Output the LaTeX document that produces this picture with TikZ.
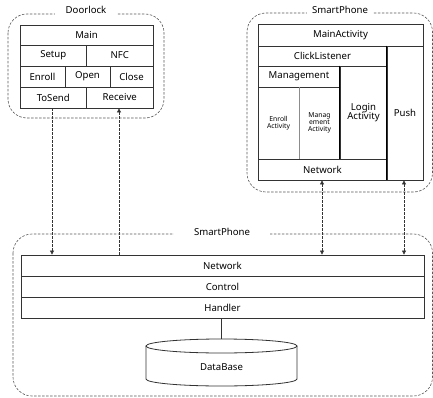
\documentclass[tikz,border=0pt]{standalone}
\usepackage{fontspec}
\setmainfont{Noto Sans}
\usetikzlibrary{arrows.meta,calc}
\begin{document}
\begin{tikzpicture}[x=1pt,y=-1pt,
  line/.style={draw=black!80,line width=0.8pt},
  cell/.style={line,rectangle,inner sep=0pt,align=center,font=\fontsize{9.6}{11}\selectfont},
  small/.style={font=\fontsize{6.8}{8}\selectfont},
  group/.style={draw=black!65,dash pattern=on 2.5pt off 1.5pt,line width=0.6pt,rounded corners=19pt},
  glabel/.style={fill=white,inner sep=3pt,font=\fontsize{9.6}{11}\selectfont},
  arr/.style={draw=black!80,dash pattern=on 2.5pt off 1.5pt,line width=0.6pt},
  smalltip/.tip={Triangle[length=4pt,width=4pt]}]
\useasboundingbox (0,0) rectangle (433,398);
% ---------- Doorlock
\draw[group] (8,14) rectangle (164,118);
\node[glabel,inner xsep=11pt] (gl1) at (86,10) {Doorlock};
\node[cell,minimum width=133pt,minimum height=20pt] (main) at (86.5,35) {Main};
\node[cell,minimum width=66.5pt,minimum height=21pt] (setup) at (53.25,55.5) {Setup};
\node[cell,minimum width=66.5pt,minimum height=21pt] (nfc) at (119.75,55.5) {NFC};
\node[cell,minimum width=45pt,minimum height=21pt] (enroll) at (42.5,76.5) {Enroll};
\node[cell,minimum width=45pt,minimum height=21pt] (open) at (87.5,76.5) {Open};
\node[cell,minimum width=43pt,minimum height=21pt] (close) at (131.5,76.5) {Close};
\node[cell,minimum width=66.5pt,minimum height=21pt] (tosend) at (53.25,97.5) {ToSend};
\node[cell,minimum width=66.5pt,minimum height=21pt] (receive) at (119.75,97.5) {Receive};
% ---------- upper SmartPhone
\draw[group] (247,13) rectangle (432.5,192);
\node[glabel,inner xsep=5pt] (gl2) at (340,10) {SmartPhone};
\node[cell,minimum width=165pt,minimum height=22pt] (mainact) at (340.5,35) {MainActivity};
\node[cell,minimum width=129pt,minimum height=20pt] (click) at (322.5,56) {ClickListener};
\node[cell,minimum width=36pt,minimum height=134pt] (push) at (405,113) {Push};
\node[cell,minimum width=82pt,minimum height=21pt] (mgmt) at (299,76.5) {Management};
\node[cell,minimum width=47pt,minimum height=93pt] (login) at (363.5,112.5) {Login\\[-2pt]Activity};
\node[cell,small,minimum width=41pt,minimum height=72pt] (enrollact) at (278.5,123) {Enroll\\[-1pt]Activity};
\node[cell,small,minimum width=41pt,minimum height=72pt] (mgmtact) at (319.5,123) {Manag\\[-1pt]ement\\[-1pt]Activity};
\node[cell,minimum width=129pt,minimum height=21pt] (net2) at (322.5,169.5) {Network};
\draw[draw=black!45,line width=1.6pt] (enrollact.north east) -- (enrollact.south east);
\draw[draw=black,line width=1.6pt] (login.north west) -- (login.south west);
\draw[draw=black,line width=1.6pt] (push.north west) -- (push.south west);
% ---------- lower SmartPhone
\draw[group] (13,234) rectangle (432.5,396);
\node[glabel,inner xsep=20pt] (gl3) at (222,232) {SmartPhone};
\node[cell,minimum width=403pt,minimum height=21pt] (net) at (222.5,265.5) {Network};
\node[cell,minimum width=403pt,minimum height=21pt] (control) at (222.5,286.5) {Control};
\node[cell,minimum width=403pt,minimum height=21pt] (handler) at (222.5,307.5) {Handler};
% database cylinder
\draw[line,fill=white] (146,346) -- (146,379)
  arc[start angle=180,end angle=360,x radius=75.5pt,y radius=7pt] -- (297,346);
\draw[line] (221.5,346) ellipse [x radius=75.5pt,y radius=7pt];
\coordinate (dbtop) at (221.5,339);
\node[font=\fontsize{9.6}{11}\selectfont] (db) at (221.5,367) {DataBase};
\draw[line] (handler.south -| dbtop) -- (dbtop);
% ---------- connectors
\coordinate (a1) at (52,0);
\coordinate (a2) at (119,0);
\coordinate (a3) at (322,0);
\coordinate (a4) at (404,0);
\draw[arr,-smalltip] (tosend.south -| a1) -- (net.north -| a1);
\draw[arr,-smalltip] (net.north -| a2) -- (receive.south -| a2);
\draw[arr,smalltip-smalltip] (net2.south -| a3) -- (net.north -| a3);
\draw[arr,smalltip-smalltip] (push.south -| a4) -- (net.north -| a4);
\end{tikzpicture}
\end{document}
